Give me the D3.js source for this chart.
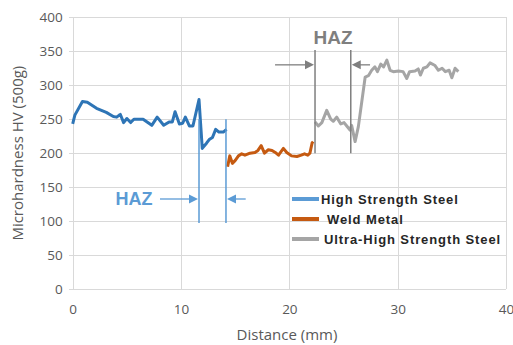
<!DOCTYPE html>
<html lang="en">
<head>
    <meta charset="UTF-8">
    <title>Microhardness profile</title>
    <script src="https://d3js.org/d3.v7.min.js"></script>
    <style>
        body {
            margin: 0;
            background-color: white;
        }
        .axis text {
            font-family: 'Open Sans', Arial, sans-serif;
            font-size: 13.5px;
            fill: #595959;
        }
        .grid line {
            stroke: #d9d9d9;
            stroke-width: 1;
            shape-rendering: crispEdges;
        }
        .legend text {
            font-family: 'Liberation Sans', Arial, sans-serif;
            font-weight: bold;
            font-size: 13px;
            letter-spacing: 0.9px;
            fill: #262626;
        }
        .title {
            font-family: 'Open Sans', Arial, sans-serif;
            font-size: 15px;
            fill: #595959;
        }
    </style>
</head>
<body>
    <svg width="513" height="345" class="chart"></svg>

    <script>
        // Hardness readings (distance in mm, HV 500g)
        const highStrength = [
            [0, 243], [0.2, 256], [0.9, 276], [1.35, 275], [2.2, 266], [3.1, 260], [3.75, 254],
            [4.06, 253], [4.3, 256], [4.4, 257], [4.7, 245], [5.0, 251], [5.35, 245], [5.65, 250],
            [6.15, 250], [6.5, 250], [7.3, 241], [7.8, 253], [8.4, 241], [8.9, 246], [9.2, 246],
            [9.45, 261], [9.85, 243], [10.15, 244], [10.4, 253], [10.77, 240], [11.1, 240],
            [11.66, 279], [11.96, 207], [12.37, 215], [12.6, 220], [12.9, 223], [13.2, 235],
            [13.5, 231], [13.9, 231], [14.2, 235]
        ];
        const weldMetal = [
            [14.3, 180], [14.5, 196], [14.74, 185], [14.99, 189], [15.3, 196], [15.6, 199],
            [15.9, 197], [16.37, 200], [16.83, 201], [17.1, 204], [17.4, 211], [17.7, 200],
            [18.06, 205], [18.4, 204], [18.7, 201], [19.0, 197], [19.45, 207], [19.76, 201],
            [20.2, 196], [20.7, 195], [21.1, 197], [21.4, 199], [21.7, 197], [21.9, 200],
            [22.1, 215], [22.2, 217]
        ];
        const ultraHigh = [
            [22.37, 246], [22.68, 240], [23.0, 245], [23.45, 263], [23.82, 250], [24.06, 247],
            [24.37, 253], [24.75, 243], [25.05, 245], [25.3, 240], [25.6, 234], [25.75, 241],
            [26.07, 217], [26.37, 239], [27.0, 312], [27.3, 314], [27.6, 322], [27.9, 327],
            [28.13, 320], [28.44, 331], [28.7, 327], [29.0, 337], [29.3, 322], [29.6, 320],
            [30.07, 321], [30.5, 320], [30.84, 310], [31.1, 320], [31.6, 321], [31.9, 324],
            [32.1, 315], [32.37, 325], [32.7, 327], [32.99, 333], [33.45, 329], [33.76, 322],
            [34.1, 325], [34.4, 320], [34.75, 322], [35.0, 311], [35.3, 325], [35.6, 320]
        ];
        const xTicks = [0, 10, 20, 30, 40];
        const yTicks = [0, 50, 100, 150, 200, 250, 300, 350, 400];
        const seriesNames = ["High Strength Steel", "Weld Metal", "Ultra-High Strength Steel"];

        const svg = d3.select(".chart");
        const margin = { top: 17.3, right: 7, bottom: 56, left: 72.7 };
        const width = +svg.attr("width");
        const height = +svg.attr("height");

        const xScale = d3.scaleLinear().domain([0, 40]).range([margin.left, width - margin.right]);
        const yScale = d3.scaleLinear().domain([0, 400]).range([height - margin.bottom, margin.top]);

        // Gridlines
        svg.append("g")
            .attr("class", "grid")
            .attr("transform", `translate(${margin.left}, 0)`)
            .call(d3.axisLeft(yScale).tickValues(yTicks).tickFormat(""))
            .call(g => g.select(".domain").remove())
            .call(g => g.selectAll("line").attr("x1", -4).attr("x2", width - margin.right - margin.left));

        svg.append("g")
            .attr("class", "grid")
            .attr("transform", `translate(0, ${height - margin.bottom})`)
            .call(d3.axisBottom(xScale).tickValues(xTicks).tickSize(-(height - margin.bottom - margin.top)).tickFormat(""))
            .call(g => g.select(".domain").remove());

        // Tick labels
        svg.append("g")
            .attr("class", "axis")
            .attr("transform", `translate(${margin.left - 7}, 0)`)
            .call(d3.axisLeft(yScale).tickValues(yTicks).tickSize(0))
            .call(g => g.select(".domain").remove());

        svg.append("g")
            .attr("class", "axis")
            .attr("transform", `translate(0, ${height - margin.bottom + 12})`)
            .call(d3.axisBottom(xScale).tickValues(xTicks).tickSize(0))
            .call(g => g.select(".domain").remove());

        // Axis titles
        svg.append("text")
            .attr("class", "title")
            .attr("x", 287)
            .attr("y", 340)
            .attr("text-anchor", "middle")
            .text("Distance (mm)");

        svg.append("text")
            .attr("class", "title")
            .attr("text-anchor", "middle")
            .attr("transform", `translate(23, ${(margin.top + height - margin.bottom) / 2}) rotate(-90)`)
            .text("Microhardness HV (500g)");

        // Data lines
        const line = d3.line().x(d => xScale(d[0])).y(d => yScale(d[1]));
        const series = [
            { data: highStrength, color: "#2e75b6" },
            { data: weldMetal, color: "#c55a11" },
            { data: ultraHigh, color: "#a5a5a5" }
        ];
        series.forEach(s => {
            svg.append("path")
                .datum(s.data)
                .attr("fill", "none")
                .attr("stroke", s.color)
                .attr("stroke-width", 3)
                .attr("stroke-linejoin", "round")
                .attr("d", line);
        });

        // HAZ annotations
        function hazMarker(x1, x2, yLow, yHigh, yArrow, from1, from2, label, labelX, labelY, color, fontSize) {
            const g = svg.append("g");
            [x1, x2].forEach(x => {
                g.append("line")
                    .attr("x1", xScale(x)).attr("x2", xScale(x))
                    .attr("y1", yScale(yLow)).attr("y2", yScale(yHigh))
                    .attr("stroke", color).attr("stroke-width", 1.5);
            });
            const ay = yScale(yArrow);
            [[from1, x1, 1], [from2, x2, -1]].forEach(([from, to, dir]) => {
                const tip = xScale(to) - dir * 1;
                g.append("line")
                    .attr("x1", xScale(from)).attr("x2", tip - dir * 8)
                    .attr("y1", ay).attr("y2", ay)
                    .attr("stroke", color).attr("stroke-width", 1.3);
                g.append("path")
                    .attr("d", `M${tip},${ay} L${tip - dir * 9},${ay - 4.5} L${tip - dir * 9},${ay + 4.5} Z`)
                    .attr("fill", color);
            });
            g.append("text")
                .attr("x", xScale(labelX)).attr("y", yScale(labelY))
                .attr("text-anchor", "middle")
                .attr("dominant-baseline", "central")
                .style("font-family", "'Liberation Sans', Arial, sans-serif")
                .style("font-weight", "bold")
                .style("font-size", fontSize + "px")
                .style("fill", color)
                .text(label);
        }
        hazMarker(11.66, 14.15, 97, 250, 132.5, 8.06, 15.97, "HAZ", 5.67, 132.5, "#5b9bd5", 18);
        hazMarker(22.37, 25.67, 200, 352, 330, 18.68, 27.45, "HAZ", 24.03, 370, "#7f7f7f", 19);

        // Legend
        const legendColors = ["#5b9bd5", "#c55a11", "#a5a5a5"];
        const legend = svg.append("g").attr("class", "legend").attr("transform", "translate(292, 199)");
        seriesNames.forEach((name, i) => {
            legend.append("line")
                .attr("x1", 0).attr("x2", 27)
                .attr("y1", i * 20).attr("y2", i * 20)
                .attr("stroke", legendColors[i]).attr("stroke-width", 4);
            legend.append("text")
                .attr("x", i === 1 ? 35 : (i === 2 ? 32 : 29))
                .attr("y", i * 20)
                .attr("dominant-baseline", "central")
                .text(name);
        });
    </script>
</body>
</html>
